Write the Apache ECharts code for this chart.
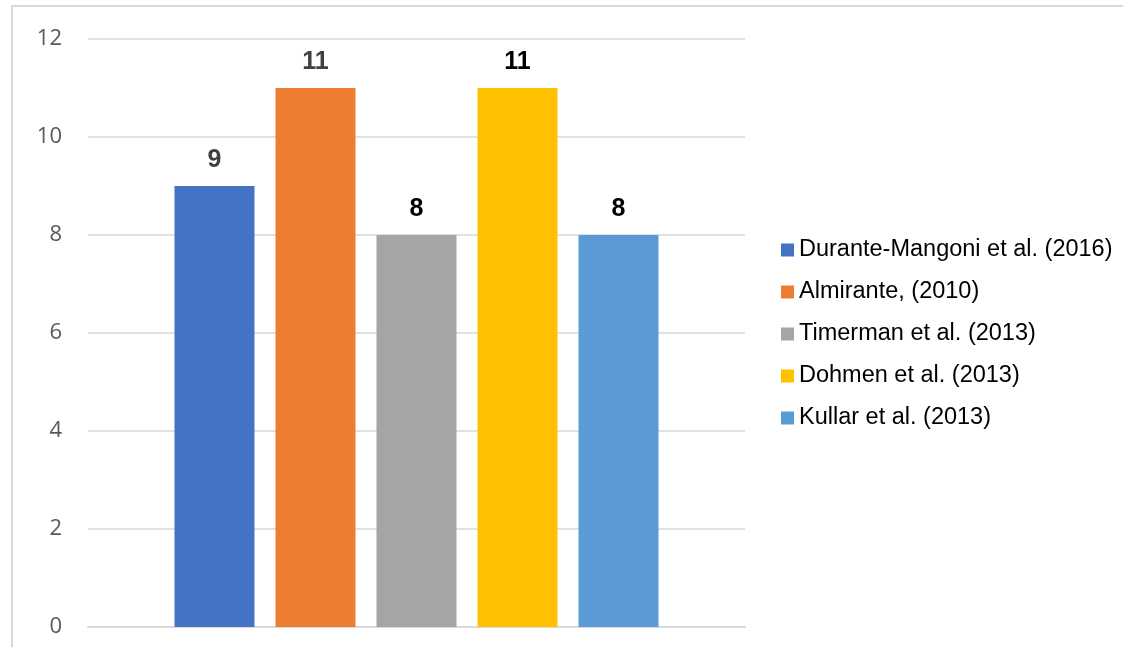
<!DOCTYPE html>
<html>
<head>
<meta charset="utf-8">
<style>
  html, body { margin: 0; padding: 0; background: #ffffff; }
  #chart { width: 1123px; height: 647px; }
</style>
<script src="https://cdn.jsdelivr.net/npm/echarts@6/dist/echarts.min.js"></script>
</head>
<body>
<div id="chart"></div>
<script>
// Studies and their counts
const studies = [
  'Durante-Mangoni et al. (2016)',
  'Almirante, (2010)',
  'Timerman et al. (2013)',
  'Dohmen et al. (2013)',
  'Kullar et al. (2013)'
];
const counts = [9, 11, 8, 11, 8];
const barColors = ['#4472C4', '#ED7D31', '#A5A5A5', '#FFC000', '#5B9BD5'];
const labelColors = ['#404040', '#404040', '#000000', '#000000', '#000000'];
const categories = [''];
const yTicks = { min: 0, max: 12, interval: 2 };

const chart = echarts.init(document.getElementById('chart'), null, { renderer: 'canvas' });

const series = studies.map((name, i) => ({
  name: name,
  type: 'bar',
  data: [counts[i]],
  barWidth: 80,
  barGap: '26.25%',
  itemStyle: { color: barColors[i] },
  label: {
    show: true,
    position: 'top',
    distance: 13,
    color: labelColors[i],
    fontFamily: 'Liberation Sans, Arial, sans-serif',
    fontWeight: 'bold',
    fontSize: 25
  }
}));

chart.setOption({
  animation: false,
  backgroundColor: '#ffffff',
  graphic: [{
    type: 'rect',
    silent: true,
    z: -10,
    shape: { x: 12, y: 6, width: 1200, height: 700 },
    style: { fill: 'none', stroke: '#d9d9d9', lineWidth: 2 }
  }],
  grid: { left: 88, right: 378, top: 39, bottom: 20, containLabel: false },
  legend: {
    orient: 'vertical',
    left: 776,
    top: 233,
    itemWidth: 13,
    itemHeight: 13,
    itemGap: 18,
    icon: 'rect',
    textStyle: {
      fontFamily: 'Liberation Sans, Arial, sans-serif',
      fontSize: 23.5,
      color: '#000000'
    },
    data: studies
  },
  xAxis: {
    type: 'category',
    data: categories,
    axisLine: { show: true, lineStyle: { color: '#d9d9d9', width: 2 } },
    axisTick: { show: false },
    axisLabel: { show: false }
  },
  yAxis: {
    type: 'value',
    min: yTicks.min,
    max: yTicks.max,
    interval: yTicks.interval,
    axisLine: { show: false },
    axisTick: { show: false },
    axisLabel: {
      margin: 26,
      color: '#595959',
      fontFamily: 'Open Sans, Liberation Sans, sans-serif',
      fontSize: 22
    },
    splitLine: { lineStyle: { color: '#d9d9d9', width: 1.5 } }
  },
  series: series
});
</script>
</body>
</html>
